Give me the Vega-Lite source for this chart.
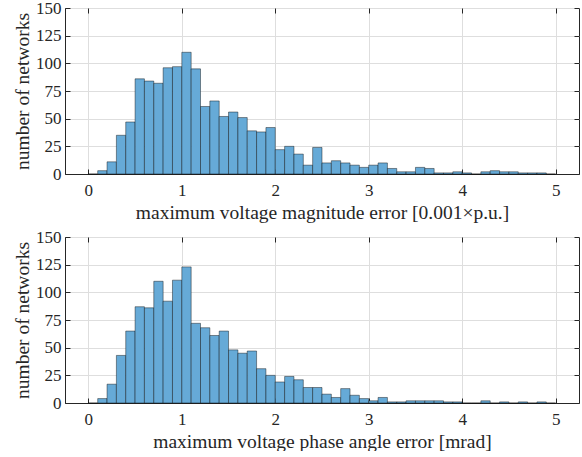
{
  "$schema": "https://vega.github.io/schema/vega-lite/v6.json",
  "padding": {"left": 11, "top": -2, "right": 2, "bottom": 0},
  "background": "white",
  "config": {
    "font": "Liberation Serif",
    "view": {"stroke": "#262626", "strokeWidth": 1},
    "axis": {
      "labelFont": "Liberation Serif", "labelFontSize": 17, "labelColor": "#262626",
      "titleFont": "Liberation Serif", "titleFontSize": 19.5, "titleFontWeight": "normal", "titleColor": "#262626",
      "domainColor": "#262626", "tickColor": "#262626", "gridColor": "#dedede", "gridOpacity": 1,
      "tickSize": -5, "labelPadding": 9
    },
    "concat": {"spacing": 5}
  },
  "datasets": {
    "mag": [
      {"lo":0.0,"hi":0.1,"n":0},{"lo":0.1,"hi":0.2,"n":3},{"lo":0.2,"hi":0.3,"n":11},{"lo":0.3,"hi":0.4,"n":35},{"lo":0.4,"hi":0.5,"n":47},
      {"lo":0.5,"hi":0.6,"n":86},{"lo":0.6,"hi":0.7,"n":84},{"lo":0.7,"hi":0.8,"n":82},{"lo":0.8,"hi":0.9,"n":96},{"lo":0.9,"hi":1.0,"n":97},
      {"lo":1.0,"hi":1.1,"n":110},{"lo":1.1,"hi":1.2,"n":95},{"lo":1.2,"hi":1.3,"n":61},{"lo":1.3,"hi":1.4,"n":66},{"lo":1.4,"hi":1.5,"n":52},
      {"lo":1.5,"hi":1.6,"n":56},{"lo":1.6,"hi":1.7,"n":51},{"lo":1.7,"hi":1.8,"n":39},{"lo":1.8,"hi":1.9,"n":38},{"lo":1.9,"hi":2.0,"n":42},
      {"lo":2.0,"hi":2.1,"n":22},{"lo":2.1,"hi":2.2,"n":25},{"lo":2.2,"hi":2.3,"n":18},{"lo":2.3,"hi":2.4,"n":8},{"lo":2.4,"hi":2.5,"n":24},
      {"lo":2.5,"hi":2.6,"n":10},{"lo":2.6,"hi":2.7,"n":12},{"lo":2.7,"hi":2.8,"n":10},{"lo":2.8,"hi":2.9,"n":8},{"lo":2.9,"hi":3.0,"n":6},
      {"lo":3.0,"hi":3.1,"n":8},{"lo":3.1,"hi":3.2,"n":10},{"lo":3.2,"hi":3.3,"n":5},{"lo":3.3,"hi":3.4,"n":2},{"lo":3.4,"hi":3.5,"n":2},
      {"lo":3.5,"hi":3.6,"n":6},{"lo":3.6,"hi":3.7,"n":5},{"lo":3.7,"hi":3.8,"n":1},{"lo":3.8,"hi":3.9,"n":1},{"lo":3.9,"hi":4.0,"n":2},
      {"lo":4.0,"hi":4.1,"n":1},{"lo":4.1,"hi":4.2,"n":0},{"lo":4.2,"hi":4.3,"n":2},{"lo":4.3,"hi":4.4,"n":3},{"lo":4.4,"hi":4.5,"n":2},
      {"lo":4.5,"hi":4.6,"n":2},{"lo":4.6,"hi":4.7,"n":1},{"lo":4.7,"hi":4.8,"n":1},{"lo":4.8,"hi":4.9,"n":1},{"lo":4.9,"hi":5.0,"n":0}
    ],
    "ang": [
      {"lo":0.0,"hi":0.1,"n":0},{"lo":0.1,"hi":0.2,"n":4},{"lo":0.2,"hi":0.3,"n":17},{"lo":0.3,"hi":0.4,"n":43},{"lo":0.4,"hi":0.5,"n":65},
      {"lo":0.5,"hi":0.6,"n":87},{"lo":0.6,"hi":0.7,"n":86},{"lo":0.7,"hi":0.8,"n":110},{"lo":0.8,"hi":0.9,"n":92},{"lo":0.9,"hi":1.0,"n":111},
      {"lo":1.0,"hi":1.1,"n":123},{"lo":1.1,"hi":1.2,"n":72},{"lo":1.2,"hi":1.3,"n":68},{"lo":1.3,"hi":1.4,"n":61},{"lo":1.4,"hi":1.5,"n":65},
      {"lo":1.5,"hi":1.6,"n":48},{"lo":1.6,"hi":1.7,"n":45},{"lo":1.7,"hi":1.8,"n":47},{"lo":1.8,"hi":1.9,"n":31},{"lo":1.9,"hi":2.0,"n":25},
      {"lo":2.0,"hi":2.1,"n":19},{"lo":2.1,"hi":2.2,"n":24},{"lo":2.2,"hi":2.3,"n":21},{"lo":2.3,"hi":2.4,"n":14},{"lo":2.4,"hi":2.5,"n":14},
      {"lo":2.5,"hi":2.6,"n":8},{"lo":2.6,"hi":2.7,"n":5},{"lo":2.7,"hi":2.8,"n":13},{"lo":2.8,"hi":2.9,"n":7},{"lo":2.9,"hi":3.0,"n":4},
      {"lo":3.0,"hi":3.1,"n":2},{"lo":3.1,"hi":3.2,"n":5},{"lo":3.2,"hi":3.3,"n":1},{"lo":3.3,"hi":3.4,"n":1},{"lo":3.4,"hi":3.5,"n":2},
      {"lo":3.5,"hi":3.6,"n":2},{"lo":3.6,"hi":3.7,"n":2},{"lo":3.7,"hi":3.8,"n":2},{"lo":3.8,"hi":3.9,"n":1},{"lo":3.9,"hi":4.0,"n":1},
      {"lo":4.0,"hi":4.1,"n":0},{"lo":4.1,"hi":4.2,"n":0},{"lo":4.2,"hi":4.3,"n":2},{"lo":4.3,"hi":4.4,"n":0},{"lo":4.4,"hi":4.5,"n":1},
      {"lo":4.5,"hi":4.6,"n":0},{"lo":4.6,"hi":4.7,"n":1},{"lo":4.7,"hi":4.8,"n":0},{"lo":4.8,"hi":4.9,"n":1},{"lo":4.9,"hi":5.0,"n":0}
    ]
  },
  "vconcat": [
    {
      "width": 514, "height": 166,
      "data": {"name": "mag"},
      "resolve": {"axis": {"x": "independent", "y": "independent"}},
      "layer": [
        {
          "mark": {"type": "bar", "fill": "#66aad7", "stroke": "#000000", "strokeOpacity": 0.6, "strokeWidth": 0.7},
          "encoding": {
            "x": {"field": "lo", "type": "quantitative", "scale": {"domain": [-0.25, 5.25], "nice": false, "zero": false},
                  "axis": {"orient": "bottom", "values": [0,1,2,3,4,5], "title": "maximum voltage magnitude error [0.001×p.u.]", "grid": true, "labelPadding": 13, "titlePadding": 5}},
            "x2": {"field": "hi"},
            "y": {"field": "n", "type": "quantitative", "scale": {"domain": [0, 150], "nice": false},
                  "axis": {"orient": "left", "values": [0,25,50,75,100,125,150], "title": "number of networks", "grid": true, "titlePadding": 3}},
            "y2": {"datum": 0}
          }
        },
        {
          "mark": {"type": "point", "opacity": 0},
          "encoding": {
            "x": {"field": "lo", "type": "quantitative", "axis": {"orient": "top", "values": [0,1,2,3,4,5], "labels": false, "title": null, "grid": false, "domain": false}},
            "y": {"field": "n", "type": "quantitative", "axis": {"orient": "right", "values": [0,25,50,75,100,125,150], "labels": false, "title": null, "grid": false, "domain": false}}
          }
        }
      ]
    },
    {
      "width": 514, "height": 166,
      "data": {"name": "ang"},
      "resolve": {"axis": {"x": "independent", "y": "independent"}},
      "layer": [
        {
          "mark": {"type": "bar", "fill": "#66aad7", "stroke": "#000000", "strokeOpacity": 0.6, "strokeWidth": 0.7},
          "encoding": {
            "x": {"field": "lo", "type": "quantitative", "scale": {"domain": [-0.25, 5.25], "nice": false, "zero": false},
                  "axis": {"orient": "bottom", "values": [0,1,2,3,4,5], "title": "maximum voltage phase angle error [mrad]", "grid": true, "labelPadding": 13, "titlePadding": 5}},
            "x2": {"field": "hi"},
            "y": {"field": "n", "type": "quantitative", "scale": {"domain": [0, 150], "nice": false},
                  "axis": {"orient": "left", "values": [0,25,50,75,100,125,150], "title": "number of networks", "grid": true, "titlePadding": 3}},
            "y2": {"datum": 0}
          }
        },
        {
          "mark": {"type": "point", "opacity": 0},
          "encoding": {
            "x": {"field": "lo", "type": "quantitative", "axis": {"orient": "top", "values": [0,1,2,3,4,5], "labels": false, "title": null, "grid": false, "domain": false}},
            "y": {"field": "n", "type": "quantitative", "axis": {"orient": "right", "values": [0,25,50,75,100,125,150], "labels": false, "title": null, "grid": false, "domain": false}}
          }
        }
      ]
    }
  ]
}
